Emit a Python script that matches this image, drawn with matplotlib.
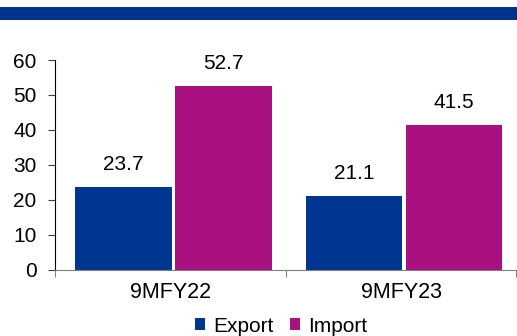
import numpy as np
import matplotlib.pyplot as plt
from matplotlib.patches import Rectangle

plt.rcParams['font.family'] = ['Liberation Sans', 'DejaVu Sans']

# Werte (USD bn)
periods = ['9MFY22', '9MFY23']
export_vals = [23.7, 21.1]
import_vals = [52.7, 41.5]

blue = '#003591'
magenta = '#A8117F'
grey = '#808080'
fs = 15

fig = plt.figure(figsize=(5.17, 3.36), dpi=100)
# Balken oben
fig.patches.append(Rectangle((0, 1 - 20 / 336), 1, 13 / 336, transform=fig.transFigure,
                             facecolor='#00338D', edgecolor='none'))

ax = fig.add_axes([55.3 / 517, 66.3 / 336, 461 / 517, 209.7 / 336])

x = np.arange(len(periods)) + 0.5
w = 0.419
b1 = ax.bar(x - 0.205, export_vals, w, color=blue, label='Export')
b2 = ax.bar(x + 0.229, import_vals, w, color=magenta, label='Import')

for bars, vals in [(b1, export_vals), (b2, import_vals)]:
    for b, v in zip(bars, vals):
        ax.annotate(f'{v:.1f}', (b.get_x() + b.get_width() / 2, v), xytext=(0, 12.2),
                    textcoords='offset points', ha='center', va='baseline', fontsize=fs)

ax.set_xlim(0, 2)
ax.set_ylim(0, 60)
ax.set_yticks(range(0, 61, 10))
ax.set_xticks([0, 1, 2])
ax.set_xticklabels([])
ax.set_xticks(x, minor=True)
ax.set_xticklabels(periods, minor=True, fontsize=15.5)
ax.tick_params(axis='x', which='minor', length=0, pad=9)
ax.tick_params(axis='x', which='major', length=5, color=grey)
ax.tick_params(axis='y', length=5, color='#404040', labelsize=fs, pad=8.5)

for s in ['top', 'right']:
    ax.spines[s].set_visible(False)
ax.spines['left'].set_color('black')
ax.spines['bottom'].set_color(grey)

fig.legend(handles=[b1, b2], loc='center', bbox_to_anchor=(281 / 517, 1 - 326 / 336), ncol=2,
           frameon=False, fontsize=fs, handlelength=0.48, handleheight=0.48,
           handletextpad=0.4, columnspacing=0.8, borderaxespad=0)

fig.savefig('out.png', dpi=100)
